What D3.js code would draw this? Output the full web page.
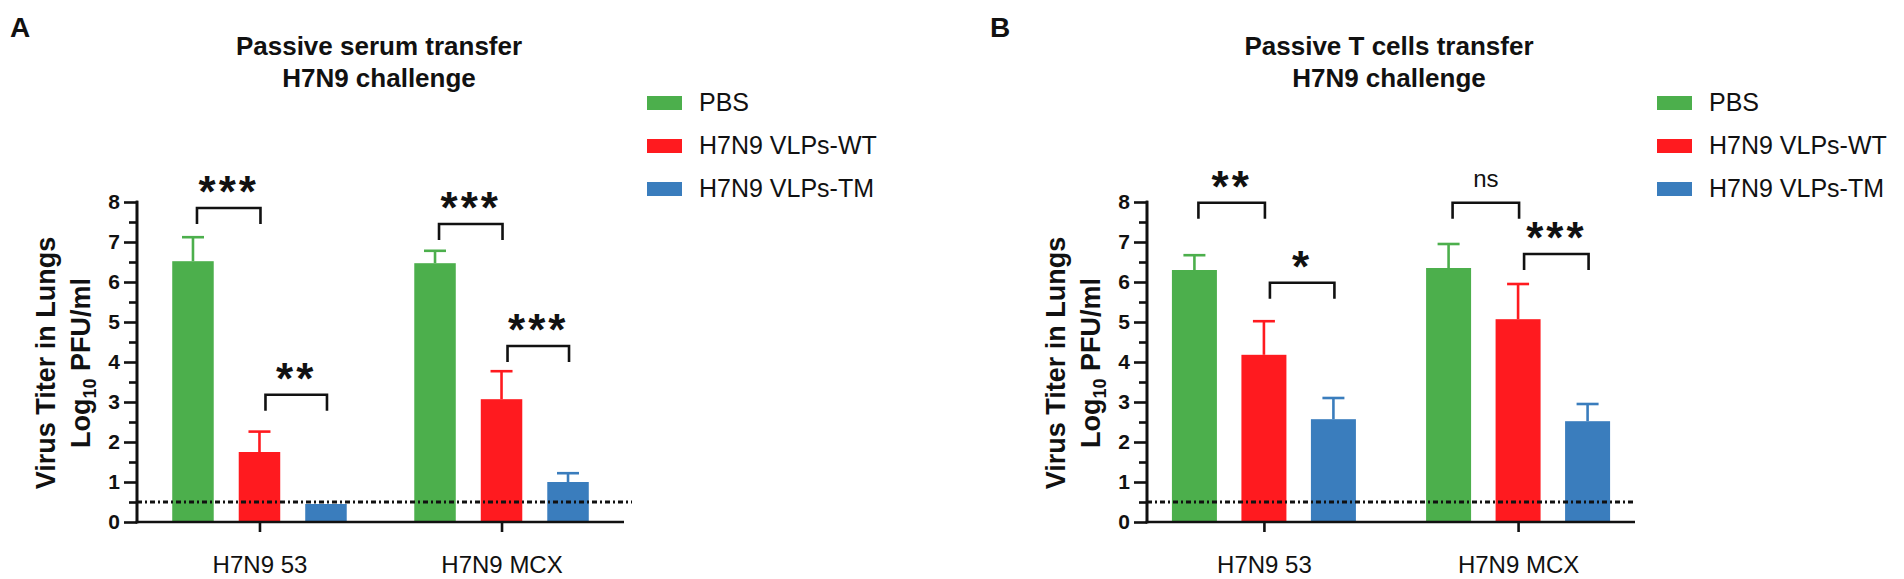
<!DOCTYPE html>
<html>
<head>
<meta charset="utf-8">
<script src="https://cdn.jsdelivr.net/npm/d3@7"></script>
<style>
  html, body { margin: 0; padding: 0; background: #fff; }
  svg { display: block; }
  text { font-family: "Liberation Sans", Arial, Helvetica, sans-serif; fill: #111; }
</style>
</head>
<body>
<svg id="chart" width="1904" height="579"></svg>
<script>
// ---------------- DATA ----------------
const categories = ["H7N9 53", "H7N9 MCX"];
const seriesNames = ["PBS", "H7N9 VLPs-WT", "H7N9 VLPs-TM"];
const seriesColors = ["#4caf4c", "#ff1a1f", "#3a7dbd"];

// Panel A: passive serum transfer (mean, SEM per series x category)
const serumMeans  = [[6.52, 6.47], [1.75, 3.07], [0.45, 1.00]];
const serumErrors = [[0.60, 0.31], [0.51, 0.70], [0.00, 0.22]];
// Panel B: passive T cells transfer
const tcellMeans  = [[6.30, 6.35], [4.18, 5.07], [2.57, 2.52]];
const tcellErrors = [[0.37, 0.60], [0.84, 0.88], [0.53, 0.43]];

const yTicks = [0, 1, 2, 3, 4, 5, 6, 7, 8];
const yMinorTicks = [0.5, 1.5, 2.5, 3.5, 4.5, 5.5, 6.5, 7.5];
const detectionLimit = 0.5;

// significance brackets: [category index, series from, series to, level, label]
const serumBrackets = [[0, 0, 1, 7.85, "***"], [0, 1, 2, 3.18, "**"], [1, 0, 1, 7.45, "***"], [1, 1, 2, 4.40, "***"]];
const tcellBrackets = [[0, 0, 1, 7.98, "**"], [0, 1, 2, 5.98, "*"], [1, 0, 1, 7.98, "ns"], [1, 1, 2, 6.70, "***"]];

const panelLetters = ["A", "B"];
const panelTitles = [["Passive serum transfer", "H7N9 challenge"], ["Passive T cells transfer", "H7N9 challenge"]];
const yLabelLine1 = "Virus Titer in Lungs";

// ---------------- LAYOUT ----------------
const svg = d3.select("#chart");
const FONT = '"Liberation Sans", Arial, Helvetica, sans-serif';

const panels = [
  { letter: panelLetters[0], title: panelTitles[0], means: serumMeans, errors: serumErrors, brackets: serumBrackets,
    x0: 137, x1: 624, pad: 0.506, barOff: 66.5, barW: 41.5, dotEnd: 632, titleX: 379, legendX: 647, letterX: 10 },
  { letter: panelLetters[1], title: panelTitles[1], means: tcellMeans, errors: tcellErrors, brackets: tcellBrackets,
    x0: 1147, x1: 1635, pad: 0.46, barOff: 69.5, barW: 45, dotEnd: 1636, titleX: 1389, legendX: 1657, letterX: 990 }
];

const y = d3.scaleLinear().domain([0, 8]).range([522, 202]);

panels.forEach(p => {
  const g = svg.append("g");
  const xg = d3.scalePoint().domain(categories).range([p.x0, p.x1]).padding(p.pad);
  const xs = d3.scalePoint().domain(seriesNames).range([-p.barOff, p.barOff]);

  // panel letter
  g.append("text").attr("x", p.letterX).attr("y", 37)
    .style("font-size", "28px").style("font-weight", "bold").text(p.letter);

  // title
  g.append("text").attr("x", p.titleX).attr("y", 55).attr("text-anchor", "middle")
    .style("font-size", "26px").style("font-weight", "bold").text(p.title[0]);
  g.append("text").attr("x", p.titleX).attr("y", 87).attr("text-anchor", "middle")
    .style("font-size", "26px").style("font-weight", "bold").text(p.title[1]);

  // bars
  const barData = [];
  seriesNames.forEach((s, si) => categories.forEach((c, ci) => {
    barData.push({ s, si, c, v: p.means[si][ci], e: p.errors[si][ci] });
  }));

  // error bars (upper only)
  const eb = g.append("g");
  barData.filter(d => d.e > 0).forEach(d => {
    const cx = xg(d.c) + xs(d.s);
    eb.append("line").attr("x1", cx).attr("x2", cx).attr("y1", y(d.v)).attr("y2", y(d.v + d.e))
      .attr("stroke", seriesColors[d.si]).attr("stroke-width", 2.6);
    eb.append("line").attr("x1", cx - 11).attr("x2", cx + 11).attr("y1", y(d.v + d.e)).attr("y2", y(d.v + d.e))
      .attr("stroke", seriesColors[d.si]).attr("stroke-width", 2.6);
  });

  g.append("g").selectAll("rect").data(barData).join("rect")
    .attr("x", d => xg(d.c) + xs(d.s) - p.barW / 2)
    .attr("width", p.barW)
    .attr("y", d => y(d.v))
    .attr("height", d => y(0) - y(d.v))
    .attr("fill", d => seriesColors[d.si]);

  // detection limit dotted line
  g.append("line").attr("x1", p.x0).attr("x2", p.dotEnd)
    .attr("y1", y(detectionLimit)).attr("y2", y(detectionLimit))
    .attr("stroke", "#111").attr("stroke-width", 3).attr("stroke-dasharray", "5,3,2,3");

  // y axis
  const yAxis = g.append("g").attr("transform", `translate(${p.x0},0)`)
    .call(d3.axisLeft(y).tickValues(yTicks).tickSize(13).tickSizeOuter(0).tickPadding(4).tickFormat(d3.format("d")));
  const yMinor = g.append("g").attr("transform", `translate(${p.x0},0)`)
    .call(d3.axisLeft(y).tickValues(yMinorTicks).tickSize(8).tickSizeOuter(0).tickFormat(""));
  [yAxis, yMinor].forEach(a => {
    a.selectAll("path, line").attr("stroke", "#111").attr("stroke-width", 2.6);
    a.select(".domain").attr("d", `M0,${y(0) + 1.3}V${y(8) - 1.3}`);
  });
  yAxis.selectAll("text").style("font-family", FONT).style("font-size", "21px")
    .style("font-weight", "bold").attr("fill", "#111");

  // x axis
  const xAxis = g.append("g").attr("transform", `translate(0,${y(0)})`)
    .call(d3.axisBottom(xg).tickSize(10).tickSizeOuter(0).tickPadding(24));
  xAxis.selectAll("path, line").attr("stroke", "#111").attr("stroke-width", 2.6);
  xAxis.select(".domain").attr("d", `M${p.x0 - 1.3},0H${p.x1}`);
  xAxis.selectAll("text").style("font-family", FONT).style("font-size", "24px").attr("fill", "#111");

  // y axis label
  const yl = g.append("g").attr("transform", `translate(${p.x0 - 82},363) rotate(-90)`);
  yl.append("text").attr("text-anchor", "middle").attr("y", 0)
    .style("font-size", "27px").style("font-weight", "bold").text(yLabelLine1);
  const l2 = yl.append("text").attr("text-anchor", "middle").attr("y", 35)
    .style("font-size", "27px").style("font-weight", "bold");
  l2.append("tspan").text("Log");
  l2.append("tspan").attr("dy", 6).style("font-size", "18px").text("10");
  l2.append("tspan").attr("dy", -6).text(" PFU/ml");

  // significance brackets
  const bg = g.append("g");
  p.brackets.forEach(([ci, a, b, lvl, label]) => {
    const xa = xg(categories[ci]) + xs(seriesNames[a]) + (a === 0 ? 4 : 6);
    const xb = xg(categories[ci]) + xs(seriesNames[b]) + 1;
    const yt = y(lvl);
    bg.append("path").attr("d", `M${xa},${yt + 16}V${yt}H${xb}V${yt + 16}`)
      .attr("fill", "none").attr("stroke", "#111").attr("stroke-width", 2.6);
    const tx = (xa + xb) / 2;
    if (label === "ns") {
      bg.append("text").attr("x", tx).attr("y", yt - 16).attr("text-anchor", "middle")
        .style("font-size", "24px").text(label);
    } else {
      bg.append("text").attr("x", tx).attr("y", yt - 1).attr("text-anchor", "middle")
        .style("font-size", "44px").style("font-weight", "bold").style("letter-spacing", "3px").text(label);
    }
  });

  // legend
  const lg = g.append("g");
  seriesNames.forEach((s, i) => {
    const base = 111 + i * 43;
    lg.append("rect").attr("x", p.legendX).attr("y", base - 15).attr("width", 35).attr("height", 14)
      .attr("fill", seriesColors[i]);
    lg.append("text").attr("x", p.legendX + 52).attr("y", base)
      .style("font-size", "25px").text(s);
  });
});
</script>
</body>
</html>
